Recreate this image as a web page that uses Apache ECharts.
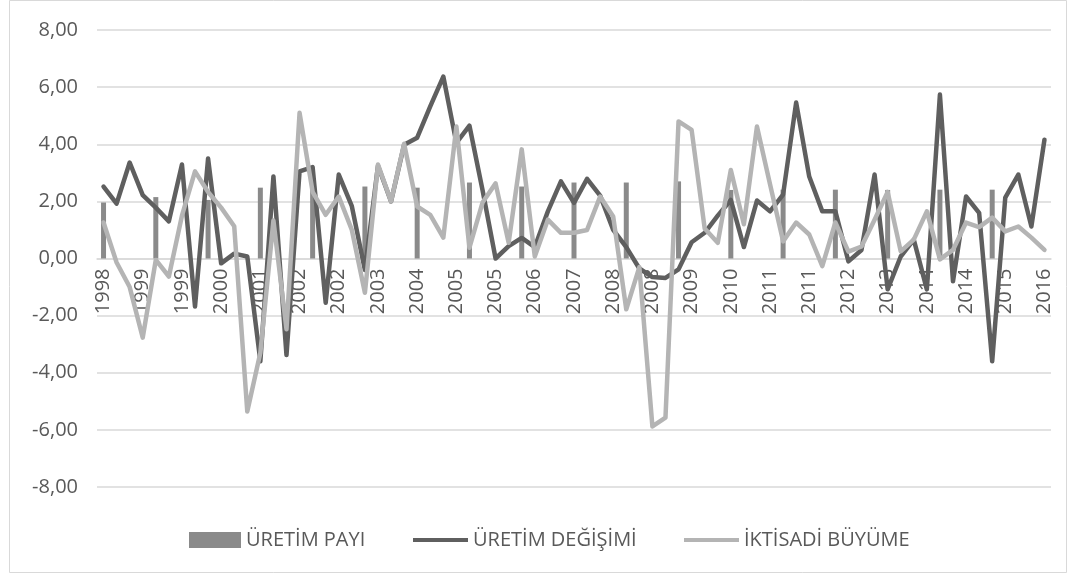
<!DOCTYPE html>
<html>
<head>
<meta charset="utf-8">
<script src="https://cdn.jsdelivr.net/npm/echarts@6/dist/echarts.min.js"></script>
<style>
  html, body { margin: 0; padding: 0; background: #ffffff; }
  #chart { width: 1075px; height: 579px; }
</style>
</head>
<body>
<div id="chart"></div>
<script>
// tick labels shown every third quarter (as printed on the original axis)
const tickLabels = ['1998', '1999', '1999', '2000', '2001', '2002', '2002', '2003', '2004', '2005',
  '2005', '2006', '2007', '2008', '2008', '2009', '2010', '2011', '2011', '2012',
  '2013', '2014', '2014', '2015', '2016'];

// ÜRETİM PAYI - one value per year (first quarter), 1998..2015
const uretimPayi = [1.96, 2.15, 2.05, 2.48, 2.50, 2.52, 2.48, 2.66, 2.52, 2.66,
  2.66, 2.70, 2.40, 2.41, 2.41, 2.40, 2.41, 2.41];

// ÜRETİM DEĞİŞİMİ - quarterly, 1998Q1..2016Q1
const uretimDegisimi = [2.52, 1.92, 3.36, 2.22, 1.78, 1.30, 3.29, -1.68, 3.50, -0.17,
  0.17, 0.07, -3.60, 2.87, -3.38, 3.05, 3.20, -1.55, 2.94, 1.83,
  -0.40, 3.25, 2.00, 3.98, 4.23, 5.33, 6.37, 4.05, 4.65, 2.40,
  0.00, 0.43, 0.72, 0.40, 1.65, 2.70, 1.95, 2.79, 2.20, 1.00,
  0.40, -0.35, -0.65, -0.68, -0.38, 0.57, 0.90, 1.50, 2.05, 0.40,
  2.03, 1.65, 2.24, 5.46, 2.87, 1.65, 1.65, -0.10, 0.30, 2.94,
  -1.08, 0.07, 0.66, -1.08, 5.74, -0.80, 2.17, 1.60, -3.60, 2.13,
  2.94, 1.12, 4.16];

// İKTİSADİ BÜYÜME - quarterly, 1998Q1..2016Q1
const iktisadiBuyume = [1.26, -0.14, -1.00, -2.77, -0.05, -0.63, 1.50, 3.05, 2.33, 1.78,
  1.13, -5.36, -3.30, 1.33, -2.48, 5.10, 2.33, 1.53, 2.17, 1.00,
  -1.20, 3.29, 2.00, 4.02, 1.82, 1.53, 0.73, 4.62, 0.38, 1.96,
  2.63, 0.55, 3.82, 0.07, 1.36, 0.90, 0.90, 1.00, 2.17, 1.47,
  -1.78, -0.30, -5.88, -5.57, 4.80, 4.50, 1.05, 0.55, 3.10, 1.20,
  4.62, 2.60, 0.60, 1.26, 0.84, -0.27, 1.26, 0.24, 0.42, 1.36,
  2.33, 0.25, 0.66, 1.65, -0.03, 0.30, 1.26, 1.10, 1.43, 0.95,
  1.12, 0.73, 0.30];

// quarter categories
const categories = [];
for (let y = 1998; y <= 2016; y++) {
  for (let q = 1; q <= 4; q++) {
    if (categories.length < uretimDegisimi.length) categories.push(y + ' Q' + q);
  }
}
// yearly bar sits on the first quarter of each year
const payiData = categories.map((c, i) => (i % 4 === 0 && uretimPayi[i / 4] !== undefined) ? uretimPayi[i / 4] : null);

const textColor = '#595959';
const gridColor = '#d9d9d9';
const fontFamily = '"Open Sans", "DejaVu Sans", sans-serif';
const gridTop = 30;
const gridBottom = 92;
const plotHeight = 579 - gridTop - gridBottom;

const chart = echarts.init(document.getElementById('chart'));

// legend pieces share the same text style
const legendText = { color: textColor, fontSize: 20, fontFamily: fontFamily };

const option = {
  backgroundColor: '#ffffff',
  animation: false,
  graphic: [{
    type: 'rect',
    shape: { x: 9.5, y: 0.5, width: 1057, height: 572 },
    style: { fill: 'none', stroke: '#d9d9d9', lineWidth: 1 },
    silent: true,
    z: -10
  }],
  legend: [
    {
      left: 184,
      top: 525,
      itemWidth: 52,
      itemHeight: 16,
      icon: 'rect',
      textStyle: legendText,
      data: ['ÜRETİM PAYI']
    },
    {
      left: 408,
      top: 525,
      itemWidth: 55,
      itemHeight: 4,
      icon: 'rect',
      textStyle: legendText,
      data: ['ÜRETİM DEĞİŞİMİ']
    },
    {
      left: 679,
      top: 525,
      itemWidth: 55,
      itemHeight: 4,
      icon: 'rect',
      textStyle: legendText,
      data: ['İKTİSADİ BÜYÜME']
    }
  ],
  grid: {
    left: 97,
    right: 24,
    top: gridTop,
    bottom: gridBottom,
    containLabel: false
  },
  xAxis: {
    type: 'category',
    data: categories,
    boundaryGap: true,
    // axis (and its labels) sits on the zero line
    offset: -plotHeight / 2,
    axisLine: { show: true, onZero: false, lineStyle: { color: gridColor, width: 1.5 } },
    axisTick: { show: false },
    axisLabel: {
      interval: 2,
      rotate: 90,
      margin: 10,
      color: textColor,
      fontSize: 20,
      fontFamily: fontFamily,
      formatter: function (value, index) {
        return tickLabels[Math.round(index / 3)] || '';
      }
    },
    splitLine: { show: false }
  },
  yAxis: {
    type: 'value',
    min: -8,
    max: 8,
    interval: 2,
    axisLine: { show: false },
    axisTick: { show: false },
    axisLabel: {
      margin: 19,
      color: textColor,
      fontSize: 20,
      fontFamily: fontFamily,
      formatter: function (v) {
        return v.toFixed(2).replace('.', ',');
      }
    },
    splitLine: { lineStyle: { color: gridColor, width: 1.5 } }
  },
  series: [
    {
      name: 'ÜRETİM PAYI',
      type: 'bar',
      data: payiData,
      barWidth: 5,
      itemStyle: { color: '#8a8a8a' }
    },
    {
      name: 'ÜRETİM DEĞİŞİMİ',
      type: 'line',
      data: uretimDegisimi,
      symbol: 'none',
      itemStyle: { color: '#5f5f5f' },
      lineStyle: { color: '#5f5f5f', width: 4.5, cap: 'round', join: 'round' }
    },
    {
      name: 'İKTİSADİ BÜYÜME',
      type: 'line',
      data: iktisadiBuyume,
      symbol: 'none',
      itemStyle: { color: '#b4b4b4' },
      lineStyle: { color: '#b4b4b4', width: 4.5, cap: 'round', join: 'round' }
    }
  ]
};

chart.setOption(option);
</script>
</body>
</html>
